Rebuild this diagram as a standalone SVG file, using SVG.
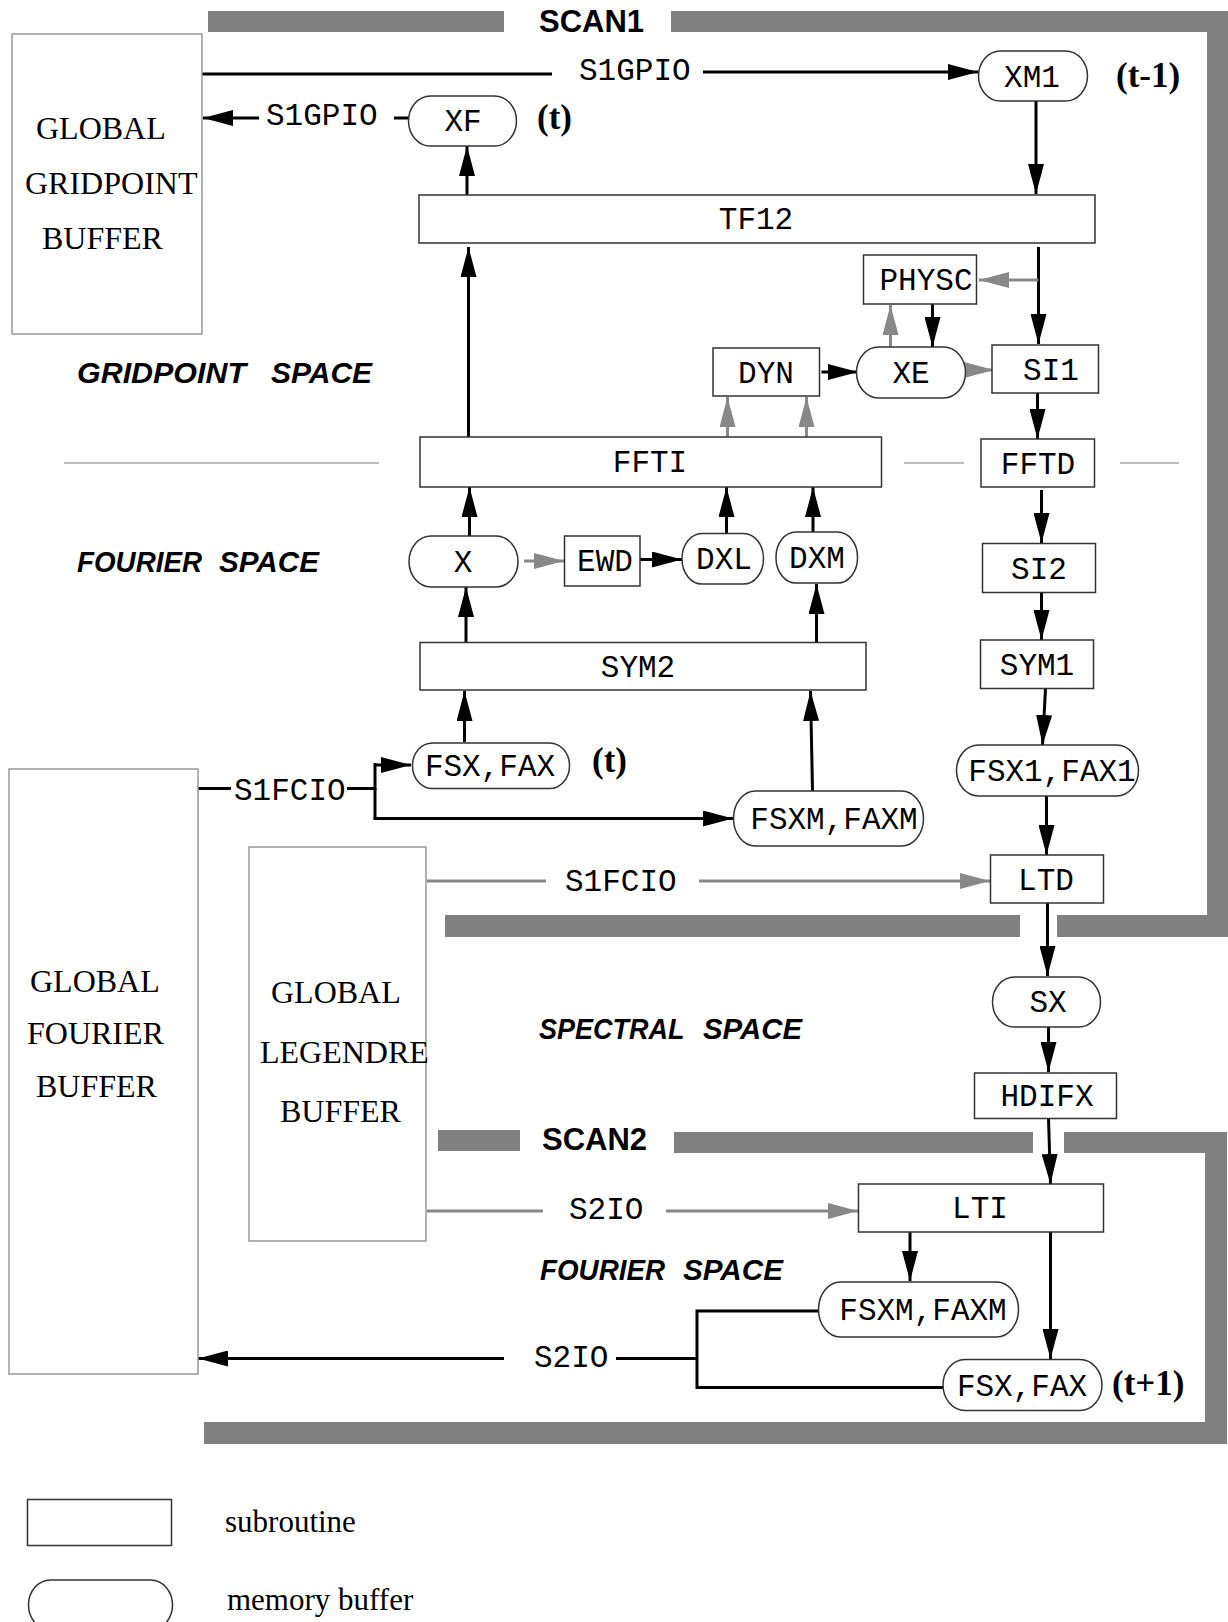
<svg xmlns="http://www.w3.org/2000/svg" width="1228" height="1622" viewBox="0 0 1228 1622">
<defs>
<style>
.bar{fill:#808080}
.buf{fill:#fff;stroke:#999;stroke-width:1.5}
.box{fill:#fff;stroke:#333;stroke-width:1.5}
.mono{font-family:"Liberation Mono",monospace;font-size:31px;fill:#000}
.serif{font-family:"Liberation Serif",serif;font-size:32px;fill:#000}
.leg{font-family:"Liberation Serif",serif;font-size:31px;fill:#000}
.space{font-family:"Liberation Sans",sans-serif;font-size:30px;font-weight:bold;font-style:italic;fill:#000}
.scan{font-family:"Liberation Sans",sans-serif;font-size:31px;font-weight:bold;fill:#000}
.tl{font-family:"Liberation Serif",serif;font-size:35px;font-weight:bold;fill:#000}
.c{fill:none;stroke:#000;stroke-width:3}
.g{fill:none;stroke:#888;stroke-width:3}
.sep{fill:none;stroke:#bbb;stroke-width:2}
.a{marker-end:url(#ab)}
.ag{marker-end:url(#ag)}
</style>
<marker id="ab" markerUnits="userSpaceOnUse" markerWidth="30" markerHeight="16" refX="30" refY="8" orient="auto"><path d="M0,0 L30,8 L0,16 z" fill="#000"/></marker>
<marker id="ag" markerUnits="userSpaceOnUse" markerWidth="30" markerHeight="16" refX="30" refY="8" orient="auto"><path d="M0,0 L30,8 L0,16 z" fill="#888"/></marker>
</defs>
<rect width="1228" height="1622" fill="#fff"/>

<g id="scan-bars">
<rect class="bar" x="208" y="11" width="296" height="21"/>
<rect class="bar" x="671" y="11" width="557" height="21"/>
<rect class="bar" x="1207" y="11" width="21" height="926"/>
<rect class="bar" x="445" y="915" width="575" height="22"/>
<rect class="bar" x="1057" y="915" width="171" height="22"/>
<rect class="bar" x="438" y="1130" width="82" height="21"/>
<rect class="bar" x="674" y="1132" width="359" height="21"/>
<rect class="bar" x="1064" y="1132" width="163" height="21"/>
<rect class="bar" x="1205" y="1132" width="22" height="312"/>
<rect class="bar" x="204" y="1422" width="1023" height="22"/>
<text class="scan" x="539" y="32">SCAN1</text>
<text class="scan" x="542" y="1150">SCAN2</text>
</g>

<g id="separators">
<line class="sep" x1="64" y1="463" x2="379" y2="463"/>
<line class="sep" x1="904" y1="463" x2="964" y2="463"/>
<line class="sep" x1="1120" y1="463" x2="1179" y2="463"/>
</g>

<g id="space-labels">
<text class="space" y="383"><tspan x="77" textLength="169" lengthAdjust="spacingAndGlyphs">GRIDPOINT</tspan> <tspan x="271" textLength="101" lengthAdjust="spacingAndGlyphs">SPACE</tspan></text>
<text class="space" y="572"><tspan x="77" textLength="125" lengthAdjust="spacingAndGlyphs">FOURIER</tspan> <tspan x="219" textLength="100" lengthAdjust="spacingAndGlyphs">SPACE</tspan></text>
<text class="space" y="1039"><tspan x="539" textLength="145" lengthAdjust="spacingAndGlyphs">SPECTRAL</tspan> <tspan x="703" textLength="99" lengthAdjust="spacingAndGlyphs">SPACE</tspan></text>
<text class="space" y="1280"><tspan x="540" textLength="125" lengthAdjust="spacingAndGlyphs">FOURIER</tspan> <tspan x="683" textLength="100" lengthAdjust="spacingAndGlyphs">SPACE</tspan></text>
</g>

<g id="connectors">
<line class="c" x1="202" y1="74" x2="552" y2="74"/>
<text class="mono" x="579" y="80">S1GPIO</text>
<line class="c a" x1="703" y1="72" x2="978" y2="72"/>
<line class="c a" x1="259" y1="118" x2="203" y2="118"/>
<text class="mono" x="266" y="125">S1GPIO</text>
<line class="c" x1="394" y1="118" x2="409" y2="118"/>
<line class="c a" x1="467" y1="197" x2="467" y2="146"/>
<line class="c a" x1="468.5" y1="437" x2="468.5" y2="247"/>
<line class="c a" x1="1036" y1="101" x2="1036" y2="194"/>
<line class="c a" x1="1038.5" y1="247" x2="1038.5" y2="344"/>
<line class="g ag" x1="1038.5" y1="280" x2="979" y2="280"/>
<line class="c a" x1="932.5" y1="304" x2="932.5" y2="347"/>
<line class="g ag" x1="890.5" y1="348" x2="890.5" y2="305"/>
<line class="c a" x1="821.5" y1="372" x2="858" y2="372"/>
<line class="g ag" x1="965" y1="370" x2="994" y2="370"/>
<line class="g ag" x1="727.5" y1="437" x2="727.5" y2="397"/>
<line class="g ag" x1="806.5" y1="437" x2="806.5" y2="397"/>
<line class="c a" x1="1037.5" y1="393" x2="1037.5" y2="439"/>
<line class="c a" x1="1041.5" y1="490" x2="1041.5" y2="543"/>
<line class="c a" x1="1041.5" y1="592" x2="1041.5" y2="640"/>
<line class="c a" x1="1045.5" y1="689" x2="1042.5" y2="745"/>
<line class="c a" x1="1046.5" y1="796" x2="1046.5" y2="855"/>
<line class="c a" x1="469.5" y1="536" x2="469.5" y2="487"/>
<line class="g ag" x1="524" y1="561" x2="564" y2="561"/>
<line class="c a" x1="640" y1="559.5" x2="682" y2="559.5"/>
<line class="c a" x1="726.5" y1="533" x2="726.5" y2="487"/>
<line class="c a" x1="813" y1="532" x2="813" y2="487"/>
<line class="c a" x1="466" y1="643" x2="466" y2="587"/>
<line class="c a" x1="816.5" y1="642" x2="816.5" y2="584"/>
<line class="c a" x1="464.5" y1="742" x2="464.5" y2="691"/>
<line class="c a" x1="812.5" y1="791" x2="810.5" y2="691"/>
<line class="c" x1="198" y1="788.5" x2="231" y2="788.5"/>
<text class="mono" x="234" y="800">S1FCIO</text>
<polyline class="c" points="347,788.5 375,788.5 375,763"/>
<line class="c a" x1="375" y1="765" x2="411" y2="765"/>
<line class="c" x1="375" y1="788" x2="375" y2="818.5"/>
<line class="c a" x1="373.5" y1="818.5" x2="733" y2="818.5"/>
<line class="g" x1="427" y1="881" x2="546" y2="881"/>
<text class="mono" x="565" y="891">S1FCIO</text>
<line class="g ag" x1="699" y1="881" x2="990" y2="881"/>
<line class="c a" x1="1047.5" y1="903" x2="1047.5" y2="976"/>
<line class="c a" x1="1048.5" y1="1027" x2="1048.5" y2="1072"/>
<line class="c a" x1="1048.5" y1="1118" x2="1050.5" y2="1184"/>
<line class="g" x1="427" y1="1211" x2="543" y2="1211"/>
<text class="mono" x="569" y="1219">S2IO</text>
<line class="g ag" x1="666" y1="1211" x2="858" y2="1211"/>
<line class="c a" x1="910" y1="1232" x2="910" y2="1281"/>
<line class="c a" x1="1050.5" y1="1232" x2="1050.5" y2="1359"/>
<polyline class="c" points="818,1311 697,1311 697,1389"/>
<line class="c" x1="697" y1="1387.5" x2="943" y2="1387.5"/>
<line class="c" x1="616" y1="1358.5" x2="697" y2="1358.5"/>
<text class="mono" x="534" y="1367">S2IO</text>
<line class="c a" x1="504" y1="1358.5" x2="198" y2="1358.5"/>
</g>

<g id="global-gridpoint-buffer">
<rect class="buf" x="12" y="34" width="190" height="300"/>
<text class="serif" x="36" y="139">GLOBAL</text>
<text class="serif" x="25" y="194">GRIDPOINT</text>
<text class="serif" x="42" y="249">BUFFER</text>
</g>
<g id="global-fourier-buffer">
<rect class="buf" x="9" y="769" width="189" height="605"/>
<text class="serif" x="30" y="992">GLOBAL</text>
<text class="serif" x="27" y="1044">FOURIER</text>
<text class="serif" x="36" y="1097">BUFFER</text>
</g>
<g id="global-legendre-buffer">
<rect class="buf" x="249" y="847" width="177" height="394"/>
<text class="serif" x="271" y="1003">GLOBAL</text>
<text class="serif" x="260" y="1063">LEGENDRE</text>
<text class="serif" x="280" y="1122">BUFFER</text>
</g>

<g id="XM1"><rect class="box" x="978.5" y="51" width="109" height="50" rx="22" ry="25"/><text class="mono" x="1032" y="87" text-anchor="middle">XM1</text></g>
<text class="tl" x="1116" y="87">(t-1)</text>
<g id="XF"><rect class="box" x="408.5" y="96" width="108" height="50" rx="22" ry="25"/><text class="mono" x="463" y="131" text-anchor="middle">XF</text></g>
<text class="tl" x="537" y="129">(t)</text>
<g id="TF12"><rect class="box" x="419" y="195" width="676" height="48"/><text class="mono" x="756" y="229" text-anchor="middle">TF12</text></g>
<g id="PHYSC"><rect class="box" x="863.5" y="255" width="113" height="49"/><text class="mono" x="926" y="290" text-anchor="middle">PHYSC</text></g>
<g id="DYN"><rect class="box" x="713" y="348" width="106.5" height="48"/><text class="mono" x="766" y="383" text-anchor="middle">DYN</text></g>
<g id="XE"><rect class="box" x="856.5" y="347" width="109" height="51" rx="22" ry="25.5"/><text class="mono" x="911" y="383" text-anchor="middle">XE</text></g>
<g id="SI1"><rect class="box" x="992" y="345" width="106.5" height="48"/><text class="mono" x="1051" y="380" text-anchor="middle">SI1</text></g>
<g id="FFTI"><rect class="box" x="420" y="437" width="461.5" height="50"/><text class="mono" x="650" y="472" text-anchor="middle">FFTI</text></g>
<g id="FFTD"><rect class="box" x="981" y="439" width="113.5" height="48"/><text class="mono" x="1038" y="474" text-anchor="middle">FFTD</text></g>
<g id="X"><rect class="box" x="409" y="536" width="109" height="51" rx="22" ry="25.5"/><text class="mono" x="463" y="572" text-anchor="middle">X</text></g>
<g id="EWD"><rect class="box" x="564.5" y="536" width="75.5" height="50"/><text class="mono" x="605" y="571" text-anchor="middle">EWD</text></g>
<g id="DXL"><rect class="box" x="682" y="533.5" width="81.5" height="50.5" rx="20" ry="25"/><text class="mono" x="724" y="569" text-anchor="middle">DXL</text></g>
<g id="DXM"><rect class="box" x="776" y="532" width="81.5" height="51" rx="20" ry="25"/><text class="mono" x="817" y="568" text-anchor="middle">DXM</text></g>
<g id="SI2"><rect class="box" x="982.5" y="543.5" width="113" height="49"/><text class="mono" x="1039" y="579" text-anchor="middle">SI2</text></g>
<g id="SYM2"><rect class="box" x="420" y="642.5" width="446" height="47.5"/><text class="mono" x="638" y="677" text-anchor="middle">SYM2</text></g>
<g id="SYM1"><rect class="box" x="980.5" y="640" width="113" height="48.5"/><text class="mono" x="1037" y="675" text-anchor="middle">SYM1</text></g>
<g id="FSX-FAX-t"><rect class="box" x="412.5" y="743" width="157" height="45.5" rx="20" ry="22.5"/><text class="mono" x="490" y="776" text-anchor="middle">FSX,FAX</text></g>
<text class="tl" x="592" y="772">(t)</text>
<g id="FSX1-FAX1"><rect class="box" x="956.5" y="745" width="182" height="51" rx="22" ry="25.5"/><text class="mono" x="1052" y="781" text-anchor="middle">FSX1,FAX1</text></g>
<g id="FSXM-FAXM-t"><rect class="box" x="733.5" y="791" width="190" height="55" rx="22" ry="27.5"/><text class="mono" x="834" y="829" text-anchor="middle">FSXM,FAXM</text></g>
<g id="LTD"><rect class="box" x="990.5" y="855" width="113" height="48"/><text class="mono" x="1046" y="890" text-anchor="middle">LTD</text></g>
<g id="SX"><rect class="box" x="992.5" y="977" width="108" height="50" rx="22" ry="25"/><text class="mono" x="1048" y="1012" text-anchor="middle">SX</text></g>
<g id="HDIFX"><rect class="box" x="974.5" y="1073" width="142" height="45.5"/><text class="mono" x="1047" y="1106" text-anchor="middle">HDIFX</text></g>
<g id="LTI"><rect class="box" x="858.5" y="1184" width="245" height="48"/><text class="mono" x="980" y="1218" text-anchor="middle">LTI</text></g>
<g id="FSXM-FAXM-b"><rect class="box" x="818.5" y="1282" width="200" height="55" rx="22" ry="27.5"/><text class="mono" x="923" y="1320" text-anchor="middle">FSXM,FAXM</text></g>
<g id="FSX-FAX-b"><rect class="box" x="943" y="1359.5" width="159" height="51" rx="22" ry="25.5"/><text class="mono" x="1022" y="1396" text-anchor="middle">FSX,FAX</text></g>
<text class="tl" x="1112" y="1395">(t+1)</text>

<g id="legend">
<rect class="box" x="27.5" y="1499.5" width="144" height="46"/>
<text class="leg" x="225" y="1532">subroutine</text>
<rect class="box" x="28.5" y="1580" width="144" height="50" rx="22" ry="25"/>
<text class="leg" x="227" y="1610">memory buffer</text>
</g>
</svg>
